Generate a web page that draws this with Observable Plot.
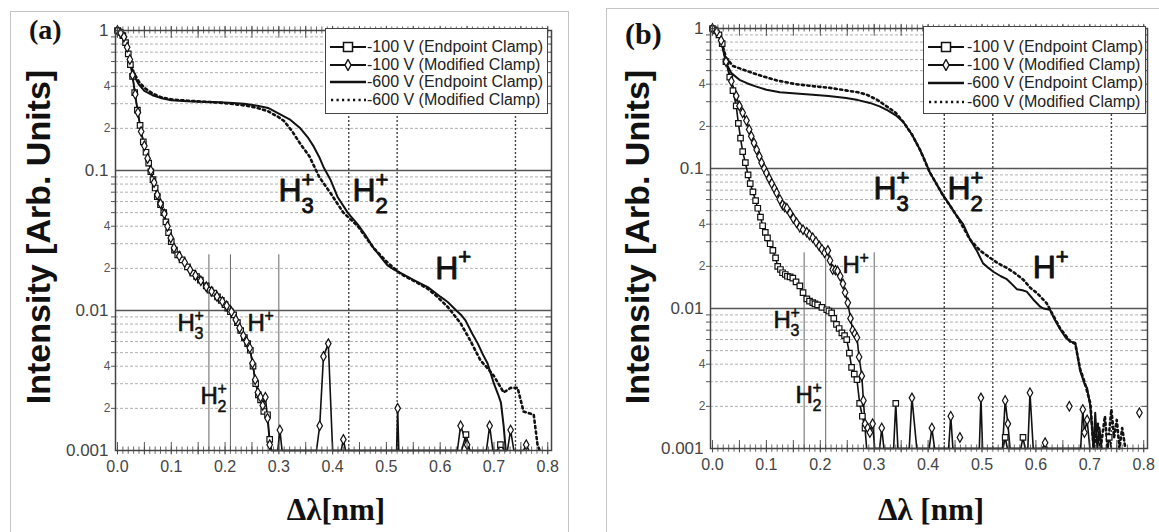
<!DOCTYPE html>
<html><head><meta charset="utf-8">
<script src="https://cdn.jsdelivr.net/npm/d3@7"></script>
<script src="https://cdn.jsdelivr.net/npm/@observablehq/plot@0.6"></script>
<style>
body{margin:0;background:#fff;}
#root{position:relative;width:1159px;height:532px;overflow:hidden;font-family:"Liberation Sans",Arial,sans-serif;}
.box{position:absolute;border:1px solid #c4c4c4;box-sizing:border-box;}
.abs{position:absolute;white-space:nowrap;line-height:1;}
.ptitle{font-family:"Liberation Serif","Times New Roman",serif;font-weight:bold;color:#111;}
.ytitle{font-family:"Liberation Sans",Arial,sans-serif;font-weight:bold;font-size:34px;color:#111;transform:translate(-50%,-50%) rotate(-90deg);}
.legend{position:absolute;background:#fff;border:1.5px solid #444;box-sizing:border-box;}
.lrow{position:absolute;left:0;height:18px;width:100%;}
.lrow svg{position:absolute;left:4px;top:3px;}
.lrow span{position:absolute;top:0;font-size:16px;line-height:18px;color:#222;white-space:nowrap;}
</style></head>
<body><div id="root"></div>
<script>
// ---------- shared axis / reference values ----------
const xTickValues = [0, 0.1, 0.2, 0.3, 0.4, 0.5, 0.6, 0.7, 0.8];
const yMajorValues = [1, 0.1, 0.01, 0.001];
const refSolidX = [0.17, 0.21, 0.30];
const refDottedX = [0.43, 0.52, 0.74];
const legendLabels = ["-100 V (Endpoint Clamp)", "-100 V (Modified Clamp)", "-600 V (Endpoint Clamp)", "-600 V (Modified Clamp)"];

// ---------- panel (a) ----------
const a_m100_end = [[0,1],[0.005,0.97],[0.01,0.92],[0.015,0.82],[0.02,0.68],[0.024,0.57],[0.028,0.47],[0.032,0.36],[0.037,0.27],[0.042,0.21],[0.048,0.16],[0.053,0.135],[0.058,0.113],[0.062,0.098],[0.066,0.086],[0.07,0.075],[0.074,0.065],[0.08,0.057],[0.086,0.05],[0.09,0.043],[0.095,0.036],[0.1,0.031],[0.106,0.027],[0.112,0.025],[0.12,0.023],[0.13,0.0205],[0.14,0.0185],[0.147,0.0175],[0.154,0.0165],[0.165,0.015],[0.172,0.014],[0.179,0.0133],[0.186,0.0125],[0.193,0.0118],[0.2,0.011],[0.205,0.0104],[0.21,0.0098],[0.216,0.0093],[0.223,0.0082],[0.229,0.0072],[0.236,0.0064],[0.242,0.0058],[0.247,0.0052],[0.252,0.004],[0.257,0.003],[0.262,0.0025],[0.266,0.0023],[0.272,0.0019],[0.279,0.0018],[0.283,0.0012],[0.286,0.001],[0.64,0.001],[0.648,0.0013],[0.655,0.001],[0.706,0.001],[0.712,0.0011],[0.72,0.001]];
const a_m100_mod = [[0,1],[0.006,0.96],[0.012,0.9],[0.018,0.76],[0.023,0.62],[0.028,0.48],[0.033,0.35],[0.038,0.26],[0.044,0.19],[0.05,0.15],[0.056,0.122],[0.062,0.1],[0.068,0.082],[0.074,0.067],[0.08,0.058],[0.087,0.049],[0.093,0.04],[0.099,0.033],[0.105,0.028],[0.115,0.0245],[0.125,0.022],[0.135,0.0195],[0.145,0.0178],[0.155,0.0163],[0.165,0.0148],[0.175,0.0137],[0.185,0.0126],[0.195,0.0116],[0.203,0.0108],[0.212,0.0098],[0.22,0.0086],[0.227,0.0075],[0.234,0.0066],[0.24,0.006],[0.246,0.0054],[0.251,0.0042],[0.256,0.0032],[0.261,0.0026],[0.266,0.0024],[0.27,0.0021],[0.275,0.0024],[0.279,0.0017],[0.283,0.0011],[0.287,0.001],[0.298,0.001],[0.302,0.0014],[0.306,0.001],[0.37,0.001],[0.376,0.0015],[0.383,0.0047],[0.392,0.0058],[0.4,0.001],[0.416,0.001],[0.42,0.0012],[0.424,0.001],[0.519,0.001],[0.521,0.002],[0.523,0.001],[0.632,0.001],[0.638,0.0015],[0.65,0.0011],[0.655,0.001],[0.686,0.001],[0.692,0.0015],[0.698,0.001],[0.725,0.001],[0.731,0.0014],[0.737,0.001],[0.755,0.001],[0.76,0.0011],[0.765,0.001]];
const a_m600_end = [[0,1],[0.008,0.95],[0.016,0.8],[0.024,0.6],[0.03,0.48],[0.04,0.41],[0.05,0.37],[0.065,0.345],[0.08,0.33],[0.1,0.318],[0.13,0.312],[0.16,0.31],[0.19,0.307],[0.215,0.303],[0.235,0.3],[0.26,0.29],[0.28,0.28],[0.3,0.255],[0.32,0.232],[0.34,0.2],[0.355,0.17],[0.365,0.148],[0.375,0.125],[0.383,0.106],[0.396,0.086],[0.409,0.065],[0.428,0.05],[0.447,0.041],[0.46,0.035],[0.476,0.028],[0.49,0.024],[0.502,0.021],[0.515,0.0195],[0.527,0.0185],[0.551,0.0165],[0.577,0.0147],[0.601,0.0125],[0.614,0.0115],[0.63,0.01],[0.64,0.0092],[0.647,0.0085],[0.66,0.0068],[0.67,0.0058],[0.68,0.0048],[0.688,0.0042],[0.7,0.003],[0.708,0.0025],[0.713,0.0022],[0.718,0.0015],[0.722,0.001]];
const a_m600_mod = [[0,1],[0.008,0.95],[0.016,0.8],[0.024,0.62],[0.03,0.5],[0.04,0.43],[0.05,0.39],[0.065,0.355],[0.08,0.335],[0.1,0.322],[0.13,0.315],[0.16,0.31],[0.19,0.305],[0.22,0.297],[0.24,0.29],[0.26,0.28],[0.28,0.265],[0.3,0.24],[0.31,0.225],[0.325,0.19],[0.34,0.155],[0.357,0.126],[0.375,0.09],[0.396,0.069],[0.42,0.05],[0.447,0.04],[0.476,0.028],[0.502,0.022],[0.527,0.0182],[0.551,0.0163],[0.577,0.0143],[0.595,0.0125],[0.615,0.0105],[0.638,0.0081],[0.655,0.0062],[0.675,0.0044],[0.69,0.0038],[0.7,0.0034],[0.718,0.0026],[0.731,0.0028],[0.744,0.0028],[0.755,0.0019],[0.774,0.0018],[0.781,0.0011],[0.785,0.001]];
const a_isoDiamonds = [];
const a_bigLabels = [{x:0.2994,y:0.072,sub:"3"},{x:0.437,y:0.072,sub:"2"},{x:0.591,y:0.02,sub:""}];
const a_smallLabels = [{x:0.1116,y:0.00807,sub:"3"},{x:0.2417,y:0.00807,sub:""},{x:0.1543,y:0.00243,sub:"2"}];

// ---------- panel (b) ----------
const b_m100_end = [[0,1],[0.006,0.96],[0.012,0.9],[0.018,0.78],[0.025,0.58],[0.032,0.45],[0.038,0.36],[0.044,0.28],[0.048,0.21],[0.052,0.165],[0.056,0.132],[0.061,0.11],[0.066,0.09],[0.07,0.078],[0.075,0.068],[0.08,0.059],[0.084,0.052],[0.089,0.045],[0.093,0.039],[0.098,0.035],[0.102,0.032],[0.107,0.029],[0.112,0.026],[0.117,0.023],[0.121,0.02],[0.126,0.019],[0.13,0.018],[0.135,0.0175],[0.139,0.017],[0.144,0.0168],[0.149,0.0165],[0.155,0.0155],[0.162,0.0145],[0.168,0.013],[0.175,0.0117],[0.18,0.0113],[0.186,0.011],[0.19,0.0108],[0.195,0.0106],[0.203,0.0102],[0.212,0.0098],[0.216,0.0096],[0.221,0.0093],[0.225,0.0085],[0.23,0.0077],[0.235,0.0072],[0.24,0.0067],[0.245,0.0064],[0.249,0.006],[0.254,0.0048],[0.258,0.0038],[0.263,0.0034],[0.268,0.0031],[0.273,0.0021],[0.278,0.0017],[0.283,0.0014],[0.286,0.001],[0.336,0.001],[0.34,0.0021],[0.344,0.001],[0.539,0.001],[0.543,0.0012],[0.547,0.001],[0.572,0.001],[0.576,0.0012],[0.58,0.001],[0.732,0.001],[0.736,0.0012],[0.74,0.001]];
const b_m100_mod = [[0,1],[0.008,0.95],[0.016,0.82],[0.025,0.58],[0.035,0.42],[0.044,0.33],[0.05,0.28],[0.056,0.25],[0.063,0.22],[0.068,0.19],[0.072,0.17],[0.077,0.152],[0.082,0.136],[0.087,0.122],[0.091,0.11],[0.096,0.1],[0.1,0.093],[0.105,0.085],[0.11,0.078],[0.115,0.072],[0.119,0.067],[0.125,0.06],[0.13,0.055],[0.134,0.053],[0.138,0.052],[0.144,0.048],[0.15,0.044],[0.156,0.041],[0.162,0.038],[0.168,0.0365],[0.175,0.035],[0.18,0.0335],[0.186,0.032],[0.192,0.03],[0.198,0.028],[0.203,0.0265],[0.208,0.025],[0.214,0.026],[0.218,0.022],[0.223,0.019],[0.228,0.0188],[0.232,0.0185],[0.237,0.017],[0.242,0.015],[0.246,0.013],[0.251,0.011],[0.256,0.0085],[0.26,0.007],[0.264,0.0066],[0.268,0.0062],[0.272,0.0045],[0.277,0.0033],[0.28,0.0022],[0.283,0.0015],[0.288,0.0014],[0.292,0.0013],[0.297,0.0015],[0.301,0.001],[0.31,0.001],[0.314,0.0014],[0.318,0.001],[0.365,0.001],[0.37,0.0023],[0.379,0.001],[0.402,0.001],[0.407,0.0014],[0.412,0.001],[0.438,0.001],[0.442,0.0017],[0.446,0.001],[0.495,0.001],[0.498,0.0023],[0.501,0.001],[0.538,0.001],[0.543,0.0022],[0.548,0.0015],[0.552,0.001],[0.585,0.001],[0.589,0.0025],[0.595,0.001],[0.612,0.001],[0.617,0.0011],[0.621,0.001],[0.683,0.001],[0.687,0.0019],[0.69,0.0013],[0.695,0.0016],[0.7,0.001]];
const b_m600_end = [[0,1],[0.008,0.95],[0.016,0.82],[0.025,0.57],[0.035,0.48],[0.05,0.43],[0.065,0.405],[0.08,0.386],[0.1,0.365],[0.125,0.35],[0.155,0.343],[0.186,0.337],[0.215,0.33],[0.248,0.319],[0.27,0.308],[0.292,0.294],[0.31,0.278],[0.325,0.26],[0.34,0.24],[0.354,0.215],[0.37,0.175],[0.385,0.136],[0.395,0.112],[0.403,0.094],[0.415,0.078],[0.428,0.064],[0.44,0.055],[0.453,0.046],[0.465,0.04],[0.478,0.031],[0.49,0.026],[0.502,0.021],[0.512,0.0195],[0.521,0.0183],[0.535,0.017],[0.546,0.0162],[0.555,0.015],[0.565,0.0137],[0.575,0.0135],[0.583,0.0132],[0.595,0.0116],[0.608,0.0103],[0.614,0.01],[0.626,0.0098],[0.635,0.0083],[0.645,0.0071],[0.655,0.0062],[0.664,0.0058],[0.673,0.0057],[0.682,0.0036],[0.69,0.0029],[0.695,0.0027],[0.701,0.002],[0.707,0.001],[0.71,0.0018],[0.714,0.001],[0.718,0.0014],[0.722,0.001]];
const b_m600_mod = [[0,1],[0.008,0.95],[0.016,0.82],[0.025,0.62],[0.038,0.54],[0.056,0.51],[0.075,0.48],[0.093,0.456],[0.12,0.425],[0.155,0.4],[0.185,0.388],[0.217,0.377],[0.25,0.36],[0.27,0.35],[0.286,0.337],[0.305,0.31],[0.323,0.278],[0.34,0.25],[0.354,0.215],[0.37,0.175],[0.385,0.136],[0.403,0.094],[0.428,0.064],[0.453,0.046],[0.478,0.031],[0.496,0.026],[0.515,0.023],[0.53,0.021],[0.546,0.0195],[0.56,0.018],[0.577,0.016],[0.59,0.014],[0.602,0.0129],[0.62,0.0109],[0.635,0.0085],[0.645,0.0072],[0.664,0.0058],[0.673,0.0056],[0.682,0.0037],[0.69,0.003],[0.701,0.0021],[0.707,0.001],[0.715,0.0015],[0.72,0.001],[0.728,0.0017],[0.733,0.001],[0.74,0.0019],[0.745,0.0012],[0.75,0.0016],[0.755,0.001],[0.76,0.0014],[0.766,0.001]];
const b_isoDiamonds = [[0.459,0.0012],[0.662,0.002],[0.792,0.0018]];
const b_bigLabels = [{x:0.2987,y:0.072,sub:"3"},{x:0.436,y:0.072,sub:"2"},{x:0.594,y:0.0196,sub:""}];
const b_smallLabels = [{x:0.113,y:0.0082,sub:"3"},{x:0.241,y:0.0203,sub:""},{x:0.154,y:0.00239,sub:"2"}];

// ---------- helpers ----------
const decades = [0.001, 0.01, 0.1];
const yMinorAll = decades.flatMap(d => d3.range(2, 10).map(k => +(k * d).toPrecision(3)));
const yMinorLabeled = decades.flatMap(d => [8, 6, 4, 2].map(k => +(k * d).toPrecision(3)));
const yMinorPlain = decades.flatMap(d => [9, 7, 5, 3].map(k => +(k * d).toPrecision(3)));
const xSmallTicks = d3.range(0, 81).map(i => i / 100);
const xMidTicks = d3.range(0, 17).map(i => i / 20);
const leadDigit = d => String(Math.round(d / Math.pow(10, Math.floor(Math.log10(d) + 1e-9))));

function panel(c) {
  const ink = "#111";
  const pxy = {x: d => d[0], y: d => d[1]};
  const line = (data, o) => Plot.line(data, {...pxy, stroke: ink, strokeLinejoin: "round", ...o});
  const lbl = (arr, o) => Plot.text(arr, {x: "x", y: "y", textAnchor: "start", fill: ink, stroke: ink, strokeWidth: 0.9, fontFamily: "Liberation Sans, Arial, sans-serif", ...o});
  return Plot.plot({
    width: 569, height: 532,
    marginLeft: c.ml, marginRight: c.mr, marginTop: c.mt, marginBottom: c.mb,
    style: {background: "transparent", overflow: "visible", fontFamily: "Liberation Sans, Arial, sans-serif"},
    x: {domain: [-0.0037, 0.807]},
    y: {type: "log", domain: [0.001, 1]},
    marks: [
      Plot.ruleY(yMinorAll, {stroke: "#a8a8a8", strokeWidth: 0.9, strokeDasharray: "3,2"}),
      Plot.ruleY([0.1, 0.01], {stroke: "#555", strokeWidth: 1.3}),
      Plot.ruleX(refDottedX, {y1: 0.001, y2: 1, stroke: "#444", strokeWidth: 1.4, strokeDasharray: "2,2"}),
      Plot.ruleX(refSolidX, {y1: 0.001, y2: 0.025, stroke: "#666", strokeWidth: 1}),
      line(c.m600mod, {strokeWidth: 2.6, strokeDasharray: "2.2,3.3"}),
      line(c.m600end, {strokeWidth: 2}),
      line(c.m100end, {strokeWidth: 1.6}),
      line(c.m100mod, {strokeWidth: 1.6}),
      Plot.dot(c.m100end.filter(d => d[1] > 0.00104), {...pxy, symbol: "square", r: 3.1, stroke: ink, fill: "white", strokeWidth: 1.2}),
      Plot.dot(c.m100mod.filter(d => d[1] > 0.00104).concat(c.iso), {...pxy, symbol: "diamond", r: 2.9, stroke: ink, fill: "white", strokeWidth: 1.2}),
      Plot.frame({stroke: "#444", strokeWidth: 1.5}),
      Plot.ruleX(xSmallTicks, {y1: 0.00094, y2: 0.00106, stroke: "#444", strokeWidth: 0.8}),
      Plot.ruleX(xMidTicks.filter(v => v <= 0.8), {y1: 0.00093, y2: 0.00114, stroke: "#444", strokeWidth: 0.9}),
      Plot.ruleX(xSmallTicks, {y1: 0.945, y2: 1.06, stroke: "#444", strokeWidth: 0.8}),
      Plot.ruleX(xMidTicks.filter(v => v <= 0.8), {y1: 0.88, y2: 1.07, stroke: "#444", strokeWidth: 0.9}),
      Plot.ruleY(yMinorAll, {x1: 0.797, x2: 0.807, stroke: "#444", strokeWidth: 0.9}),
      Plot.axisX(xTickValues, {anchor: "bottom", tickSize: 0, tickPadding: 10, fontSize: 16, color: "#444", tickFormat: d3.format(".1f"), label: null}),
      Plot.axisY(yMajorValues, {anchor: "left", tickSize: 0, tickPadding: 7, fontSize: 17, color: "#444", tickFormat: d => String(d), label: null}),
      Plot.axisY(yMinorLabeled, {anchor: "left", tickSize: 4, tickPadding: 1, fontSize: 12, color: "#555", tickFormat: leadDigit, label: null}),
      Plot.axisY(yMinorPlain, {anchor: "left", tickSize: 4, tickFormat: () => "", color: "#555", label: null}),
      lbl(c.big, {text: () => "H", fontSize: 32}),
      lbl(c.big, {text: () => "+", fontSize: 22, dx: 23, dy: -11}),
      lbl(c.big.filter(d => d.sub), {text: "sub", fontSize: 22, dx: 23, dy: 15}),
      lbl(c.small, {text: () => "H", fontSize: 24, strokeWidth: 0.6}),
      lbl(c.small, {text: () => "+", fontSize: 16, dx: 17, dy: -8, strokeWidth: 0.5}),
      lbl(c.small.filter(d => d.sub), {text: "sub", fontSize: 16, dx: 17, dy: 10, strokeWidth: 0.5})
    ]
  });
}

const root = document.getElementById("root");
function el(cls, style, html) {
  const d = document.createElement("div");
  d.className = cls; d.setAttribute("style", style); d.innerHTML = html || "";
  root.appendChild(d); return d;
}

// panel frames
el("box", "left:10px;top:11px;width:559px;height:560px;");
el("box", "left:606px;top:8px;width:600px;height:560px;");

// plots
const wa = el("abs", "left:0px;top:0px;");
wa.appendChild(panel({ml: 115, mr: 18, mt: 30, mb: 82, m100end: a_m100_end, m100mod: a_m100_mod, m600end: a_m600_end, m600mod: a_m600_mod, iso: a_isoDiamonds, big: a_bigLabels, small: a_smallLabels}));
const wb = el("abs", "left:590px;top:0px;");
wb.appendChild(panel({ml: 120, mr: 12, mt: 28, mb: 84, m100end: b_m100_end, m100mod: b_m100_mod, m600end: b_m600_end, m600mod: b_m600_mod, iso: b_isoDiamonds, big: b_bigLabels, small: b_smallLabels}));

// titles
el("abs ptitle", "left:29px;top:16px;font-size:28px;", "(a)");
el("abs ptitle", "left:625px;top:19px;font-size:30px;", "(b)");
el("abs ytitle", "left:38px;top:237px;", "Intensity [Arb. Units]");
el("abs ytitle", "left:637px;top:237px;", "Intensity [Arb. Units]");
el("abs ptitle", "left:336px;top:494px;font-size:31px;transform:translateX(-50%);", "&Delta;&lambda;[nm]");
el("abs ptitle", "left:931px;top:494px;font-size:31px;transform:translateX(-50%);", "&Delta;&lambda; [nm]");

// legends
const sym = [
  '<svg width="36" height="12"><line x1="0" y1="6" x2="36" y2="6" stroke="#111" stroke-width="2"/><rect x="13.5" y="1.5" width="9" height="9" fill="#fff" stroke="#111" stroke-width="1.5"/></svg>',
  '<svg width="36" height="12"><line x1="0" y1="6" x2="36" y2="6" stroke="#111" stroke-width="2"/><polygon points="18,0.5 21,6 18,11.5 15,6" fill="#fff" stroke="#111" stroke-width="1.4"/></svg>',
  '<svg width="36" height="12"><line x1="0" y1="6" x2="36" y2="6" stroke="#111" stroke-width="2.4"/></svg>',
  '<svg width="36" height="12"><line x1="1" y1="6" x2="36" y2="6" stroke="#111" stroke-width="2.6" stroke-dasharray="2.2,3.3"/></svg>'
];
function legend(left, top, w, h, textLeft, rows) {
  const L = el("legend", `left:${left}px;top:${top}px;width:${w}px;height:${h}px;`);
  legendLabels.forEach((t, i) => {
    const r = document.createElement("div");
    r.className = "lrow"; r.style.top = (rows[i] - 9) + "px";
    r.innerHTML = sym[i] + `<span style="left:${textLeft}px">${t}</span>`;
    L.appendChild(r);
  });
}
legend(325, 28, 223, 86, 41, [18, 35.5, 53, 71]);
legend(923, 26, 223, 88, 43, [20, 38, 56, 75]);
</script>
</body></html>
